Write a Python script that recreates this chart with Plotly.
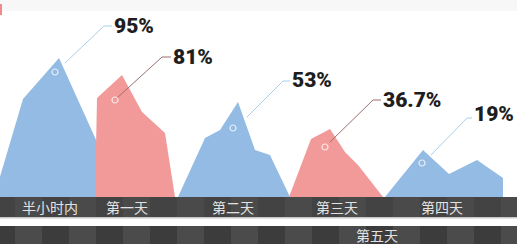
import plotly.graph_objects as go

# ---------------- data ----------------
categories = ["半小时内", "第一天", "第二天", "第三天", "第四天"]
extra_category = "第五天"
retention = ["95%", "81%", "53%", "36.7%", "19%"]

# mountain profiles (x position, height above the ground line)
m1_x = [-6, 23, 59, 90, 97, 97]
m1_h = [0, 98, 139, 70, 55, 0]
m2_x = [95, 97, 122, 142, 165, 175]
m2_h = [0, 99, 122, 85, 64, 0]
m3_x = [178, 205, 220, 238, 255, 270, 290]
m3_h = [0, 59, 67, 95, 47, 42, 0]
m4_x = [289, 311, 330, 345, 358, 383]
m4_h = [0, 58, 68, 45, 32, 0]
m5_x = [385, 423, 449, 477, 503, 503]
m5_h = [0, 47, 23, 37, 19, 0]

# marker points on each mountain
mark_x = [55, 115, 233, 325, 422]
mark_h = [125, 97, 69, 50, 34]
# leader line start / elbow / label anchor
lead_sx = [65, 117, 247, 330, 431]
lead_sh = [134, 99, 80, 55, 42]
lead_ex = [104, 162, 283, 373, 467]
lead_eh = [171, 140, 116, 97, 79]
label_x = [112, 171, 290, 381, 472]
label_h = [171, 140, 117, 97, 83]

cat_x = [50, 127, 233, 337, 442]
extra_x = 377

BLUE = "#93bbe4"
RED = "#f29a9a"
series_color = [BLUE, RED, BLUE, RED, BLUE]
lead_color = ["#a9cfea", "#9a6f6f", "#a9cfea", "#9a6f6f", "#a9cfea"]

fig = go.Figure()

# bands as shapes (ground = 0)
shapes = []
shapes.append(dict(type="rect", xref="x", yref="y", x0=-10, x1=530, y0=-20, y1=0,
                   fillcolor="#434343", line_width=0, layer="below"))
shapes.append(dict(type="rect", xref="x", yref="y", x0=-10, x1=530, y0=-29, y1=-20,
                   fillcolor="#ffffff", line_width=0, layer="below"))
shapes.append(dict(type="rect", xref="x", yref="y", x0=-10, x1=530, y0=-21.5, y1=-20,
                   fillcolor="#c8c8c8", line_width=0, layer="below"))
shapes.append(dict(type="rect", xref="x", yref="y", x0=-10, x1=530, y0=-50, y1=-29,
                   fillcolor="#3c3c3c", line_width=0, layer="below"))
w = 27
for i in range(20):
    x0 = 15 + i * 2 * w - w
    shapes.append(dict(type="rect", xref="x", yref="y", x0=x0 + w, x1=x0 + 2 * w, y0=-50, y1=-29,
                       fillcolor="#4b4b4b", line_width=0, layer="below"))
    shapes.append(dict(type="rect", xref="x", yref="y", x0=x0 + w, x1=x0 + 2 * w, y0=-20, y1=0,
                       fillcolor="#4a4a4a", line_width=0, layer="below"))
# faint top band and red corner mark
shapes.append(dict(type="rect", xref="x", yref="y", x0=-10, x1=530, y0=186, y1=200,
                   fillcolor="#f7f7f7", line_width=0, layer="below"))
shapes.append(dict(type="rect", xref="x", yref="y", x0=-10, x1=2, y0=182, y1=193,
                   fillcolor="#f08a8a", line_width=0, layer="below"))

profiles = [(m1_x, m1_h), (m2_x, m2_h), (m3_x, m3_h), (m4_x, m4_h), (m5_x, m5_h)]
for (xs, hs), c in zip(profiles, series_color):
    fig.add_trace(go.Scatter(x=xs, y=hs, mode="lines", fill="toself", fillcolor=c,
                             line=dict(width=0, color=c), hoverinfo="skip", showlegend=False))

for i in range(5):
    fig.add_trace(go.Scatter(x=[lead_sx[i], lead_ex[i], label_x[i]],
                             y=[lead_sh[i], lead_eh[i], lead_eh[i]],
                             mode="lines", line=dict(color=lead_color[i], width=1),
                             hoverinfo="skip", showlegend=False))

fig.add_trace(go.Scatter(x=mark_x, y=mark_h, mode="markers",
                         marker=dict(symbol="circle-open", size=6,
                                     color="rgba(255,255,255,0.75)", line=dict(width=1.2)),
                         hoverinfo="skip", showlegend=False))

annotations = []
for i in range(5):
    annotations.append(dict(x=label_x[i], y=label_h[i], xref="x", yref="y", text=retention[i],
                            xanchor="left", yanchor="middle", showarrow=False,
                            font=dict(family="Roboto, Liberation Sans, sans-serif",
                                      size=21, color="#1e1e1e", weight=900)))
for i in range(5):
    annotations.append(dict(x=cat_x[i], y=-10, xref="x", yref="y", text=categories[i],
                            xanchor="center", yanchor="middle", showarrow=False,
                            font=dict(family="Noto Sans CJK SC", size=14, color="#e2e2e2")))
annotations.append(dict(x=extra_x, y=-38, xref="x", yref="y", text=extra_category,
                        xanchor="center", yanchor="middle", showarrow=False,
                        font=dict(family="Noto Sans CJK SC", size=14, color="#e2e2e2")))

fig.update_layout(
    width=517, height=244, margin=dict(l=0, r=0, t=0, b=0),
    paper_bgcolor="white", plot_bgcolor="white",
    xaxis=dict(range=[0, 517], visible=False, fixedrange=True),
    yaxis=dict(range=[-47, 197], visible=False, fixedrange=True),
    shapes=shapes, annotations=annotations, showlegend=False,
)
fig.write_html("out.html", config={"displayModeBar": False, "staticPlot": True},
               post_script="document.body.style.margin='0';document.body.style.overflow='hidden';")
